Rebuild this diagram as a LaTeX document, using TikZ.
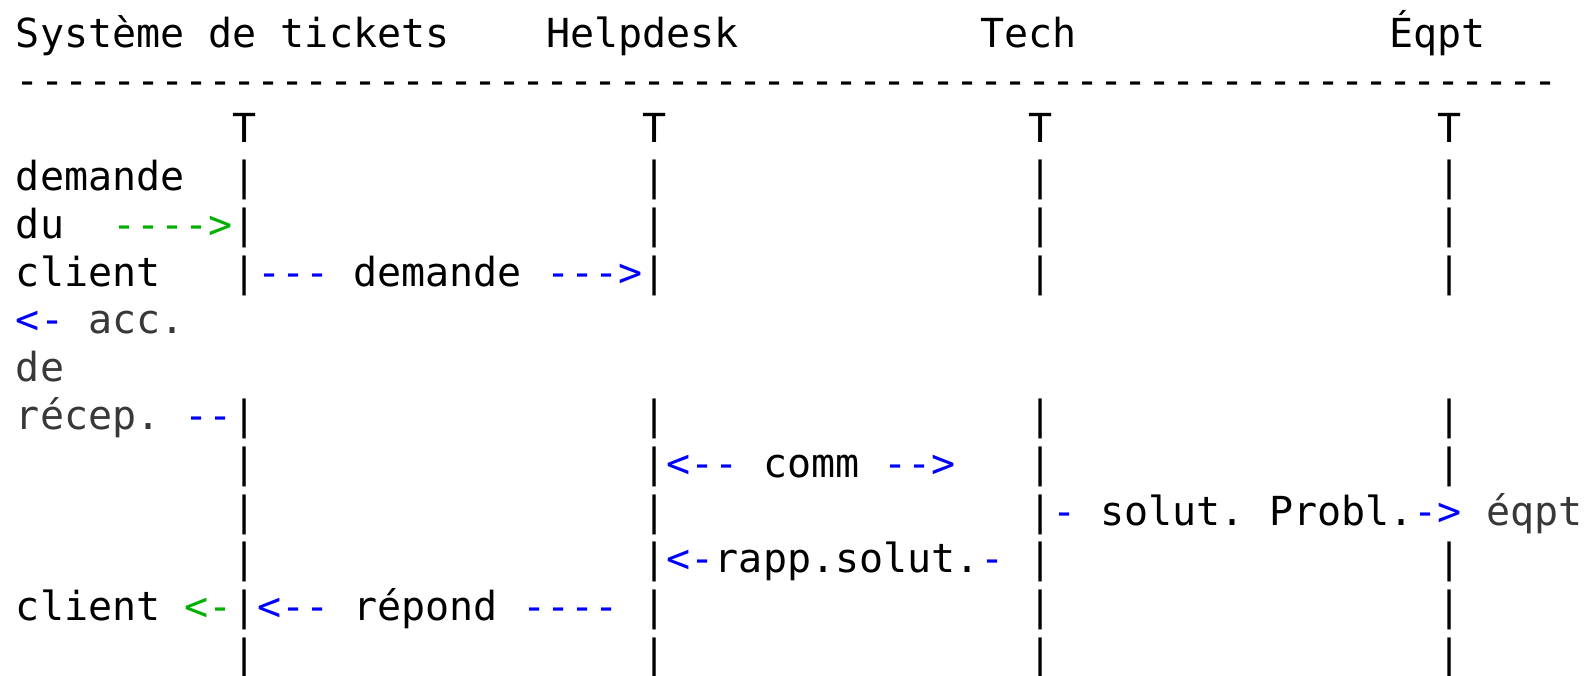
\documentclass[tikz,border=0pt]{standalone}
\usepackage{fontspec}
\setmonofont{DejaVu Sans Mono}
\definecolor{flowblue}{RGB}{0,0,255}
\definecolor{flowgreen}{RGB}{0,176,0}
\definecolor{softtext}{RGB}{56,56,56}
\begin{document}
\begin{tikzpicture}[x=12.05pt,y=-23.9pt,
  txt/.style={anchor=base west, inner sep=0pt, outer sep=0pt,
    font=\ttfamily\fontsize{20pt}{24pt}\selectfont, text=black},
  blu/.style={txt, text=flowblue},
  grn/.style={txt, text=flowgreen},
  gry/.style={txt, text=softtext}]
\useasboundingbox[fill=white] (0pt,0pt) rectangle (797.5pt,-337.5pt);
\begin{scope}[shift={(8pt,-23.5pt)}]
% header and rule
\node[txt] (hTickets) at (0,0) {Système de tickets};
\node[txt] (hHelp) at (22,0) {Helpdesk};
\node[txt] (hTech) at (40,0) {Tech};
\node[txt] (hEqpt) at (57,0) {Éqpt};
\node[txt] (rule) at (0,1) {----------------------------------------------------------------};
% lifeline heads
\node[txt] (tA) at (9,2) {T};
\node[txt] (tB) at (26,2) {T};
\node[txt] (tC) at (42,2) {T};
\node[txt] (tD) at (59,2) {T};
% lifeline bars, columns 9 / 26 / 42 / 59 (the last row runs off the bottom edge)
\foreach \r in {3,4,5,8,9,10,11,12,13} {\node[txt] (barA\r) at (9,\r) {|};}
\foreach \r in {3,4,5,8,9,10,11,12,13} {\node[txt] (barB\r) at (26,\r) {|};}
\foreach \r in {3,4,5,8,9,10,11,12,13} {\node[txt] (barC\r) at (42,\r) {|};}
\foreach \r in {3,4,5,8,9,11,12,13} {\node[txt] (barD\r) at (59,\r) {|};}
% client request
\node[txt] (reqA) at (0,3) {demande};
\node[txt] (reqB) at (0,4) {du};
\node[grn] (reqArrow) at (4,4) {---->};
\node[txt] (reqC) at (0,5) {client};
% forwarded request
\node[blu] (fwdTail) at (10,5) {---};
\node[txt] (fwdLabel) at (14,5) {demande};
\node[blu] (fwdHead) at (22,5) {--->};
% acknowledgement
\node[blu] (ackHead) at (0,6) {<-};
\node[gry] (ackA) at (3,6) {acc.};
\node[gry] (ackB) at (0,7) {de};
\node[gry] (ackC) at (0,8) {récep.};
\node[blu] (ackTail) at (7,8) {--};
% helpdesk <-> tech
\node[blu] (commL) at (27,9) {<--};
\node[txt] (commLabel) at (31,9) {comm};
\node[blu] (commR) at (36,9) {-->};
% tech -> equipment
\node[blu] (solTail) at (43,10) {-};
\node[txt] (solLabel) at (45,10) {solut. Probl.};
\node[blu] (solHead) at (58,10) {->};
\node[gry] (solTarget) at (61,10) {éqpt};
% report back
\node[blu] (repHead) at (27,11) {<-};
\node[txt] (repLabel) at (29,11) {rapp.solut.};
\node[blu] (repTail) at (40,11) {-};
% answer to client
\node[txt] (ansTarget) at (0,12) {client};
\node[grn] (ansHead) at (7,12) {<-};
\node[blu] (rspHead) at (10,12) {<--};
\node[txt] (rspLabel) at (14,12) {répond};
\node[blu] (rspTail) at (21,12) {----};
\end{scope}
\end{tikzpicture}
\end{document}
